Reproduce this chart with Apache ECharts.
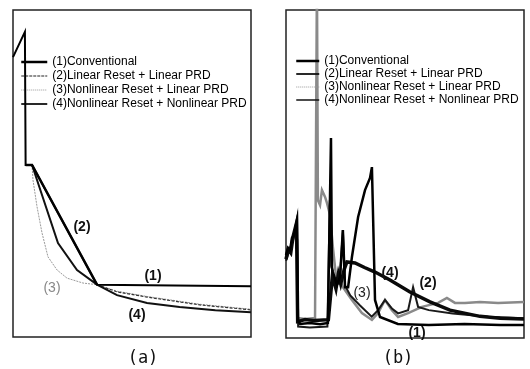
<!DOCTYPE html>
<html><head><meta charset="utf-8">
<script src="https://cdn.jsdelivr.net/npm/echarts@6/dist/echarts.min.js"></script>
<style>html,body{margin:0;padding:0;background:#fff}#c{width:530px;height:369px}</style>
</head><body><div id="c"></div>
<script>
const names = ['(1)Conventional','(2)Linear Reset + Linear PRD','(3)Nonlinear Reset + Linear PRD','(4)Nonlinear Reset + Nonlinear PRD'];
const panelLabels = ['(a)','(b)'];
const curveLabelsA = ['(2)','(1)','(3)','(4)'];
const curveLabelsB = ['(4)','(2)','(3)','(1)'];

// ---- panel (a) ----
const a1 = [[0,85.6],[5.0,93.3],[5.3,93.3],[5.3,52.6],[8,52.6],[35.3,16],[36,15.5],[100,15.5]];
const a2 = [[5.3,52.6],[8,52.6],[35.3,16]];
const a2tail = [[35.3,16],[43.7,13.8],[56.3,12.2],[78.6,9.8],[100,8.3]];
const a3 = [[8,52.6],[8.4,48],[10.1,39.8],[12.2,31.8],[14.7,24.5],[18.5,20.5],[22.7,18],[29.4,16.5],[35.3,16],[43.7,14],[56.3,12.4],[78.6,10],[100,8.5]];
const a4 = [[8,52.6],[18.9,28.7],[26.9,20.5],[35.3,16],[43.7,12.8],[56.3,10.4],[70,9.2],[85,8.2],[100,7.6]];

// ---- panel (b) ----
const b1 = [[0,25.3],[0.8,27.4],[1.7,26.8],[2.5,30.5],[3.4,31.4],[4.2,34.5],[4.6,36],[5.0,5.5],[5.9,4.3],[10.1,4.6],[14.3,4.2],[17.6,4.6],[18.9,61],[19.3,21.6],[19.7,20.1],[21.4,16.2],[22.7,18.6],[23.9,32.9],[24.8,15.5],[26.1,15.5],[27.7,24.7],[30.3,36.9],[33.2,45.1],[35.3,48.8],[36.1,52.1],[37.4,11.6],[39.5,6.4],[47,4.3],[60,4.0],[75,4.3],[90,4.0],[100,4.0]];
const b2 = [[0,23.5],[1.5,27],[3,30],[4.2,33],[4.7,30],[5.1,3.5],[10,3.2],[17.4,3.5],[18.4,42],[19,22],[20,19],[21.4,16],[22.7,18.6],[23.9,32.9],[24.8,16],[27,13],[31,10],[36,6.5],[38.7,8.5],[41.6,11.6],[44.5,9],[47.1,7.5],[51.3,8.5],[53.4,15.5],[55.5,9.5],[60,8.5],[70,7.5],[85,6.5],[100,6]];
const b3 = [[5,6.1],[8,5.8],[12.2,6.1],[12.9,6],[13,110],[13.2,110],[13.4,42],[14.3,40.5],[15.1,45.1],[16.4,43],[17.2,41.2],[18.5,37.5],[19.7,27.7],[21.4,16.2],[22.7,17.7],[23.9,15.5],[27.7,11.6],[31.9,7.6],[36.1,5.5],[38.7,7.6],[41.6,11.6],[44.5,8.5],[47.1,6.4],[51.3,7.6],[57.1,9.5],[63.9,10.7],[67.6,12.2],[71,10.7],[75.2,10.7],[81.5,11],[89.1,10.7],[100,11]];
const b4 = [[0,24],[1,27],[2,26],[3,31],[4.4,35],[4.9,5],[8,5.6],[12,5.3],[17.8,5.6],[19.5,19],[21,15],[22,19.5],[23,16.5],[24.5,21],[25.6,23.2],[29,22.9],[33,21.5],[37.4,20.1],[43.7,17.7],[52.1,14],[60.5,11],[68.9,8.5],[81.5,6.6],[90,6.0],[100,5.8]];

const chart = echarts.init(document.getElementById('c'));
const FONT = 'Liberation Sans, Arial, sans-serif';
function ax(i){ return {type:'value', gridIndex:i, min:0, max:100, show:false}; }
function line(name, data, gi, color, width, type, z){
  return {type:'line', name, data, xAxisIndex:gi, yAxisIndex:gi, symbol:'none', silent:true, animation:false, z:z||2,
    lineStyle:{color, width, type:type||'solid', join:'miter'}, itemStyle:{color}};
}
function legendFor(left, top, gap, w, styles){
  return {left, top, orient:'vertical', itemWidth:w, itemHeight:10, itemGap:gap, padding:0, selectedMode:false,
    itemStyle:{opacity:0},
    textStyle:{fontFamily:FONT, fontSize:12, color:'#000', lineHeight:12},
    data: names.map((n,i)=>({name:n, lineStyle:styles[i], itemStyle:{opacity:0}}))};
}
function txt(t, x, y, bold, fill, size, fam){
  return {type:'text', z:100, style:{text:t, x, y, align:'center', verticalAlign:'middle',
    font:(bold?'bold ':'')+(size||14)+'px '+(fam||FONT), fill:fill||'#111'}};
}
chart.setOption({
  animation:false,
  backgroundColor:'#fff',
  grid:[
    {left:13, top:10, width:238, height:327, show:true, borderColor:'#222', borderWidth:1.5, backgroundColor:'transparent'},
    {left:286, top:10, width:238, height:328, show:true, borderColor:'#222', borderWidth:1.5, backgroundColor:'transparent'}
  ],
  xAxis:[ax(0), ax(1)],
  yAxis:[ax(0), ax(1)],
  legend:[
    legendFor(20, 56, 2, 26, [
      {color:'#000', width:2.5, type:'solid'},
      {color:'#222', width:1.2, type:[3,1]},
      {color:'#999', width:1, type:[1,1]},
      {color:'#111', width:1.8, type:'solid'}]),
    legendFor(295, 55, 1, 23, [
      {color:'#000', width:2.5, type:'solid'},
      {color:'#111', width:1.8, type:'solid'},
      {color:'#999', width:1, type:[1,1]},
      {color:'#111', width:1.5, type:'solid'}])
  ],
  series:[
    line(names[2], a3, 0, '#9a9a9a', 1, [2,1], 2),
    line(names[1], a2tail, 0, '#333', 1.2, [3,1.5], 3),
    line(names[3], a4, 0, '#111', 2, 'solid', 4),
    line(names[1], a2, 0, '#111', 2.5, 'solid', 5),
    line(names[0], a1, 0, '#000', 2, 'solid', 6),
    line(names[2], b3, 1, '#8a8a8a', 2.5, 'solid', 2),
    line(names[1], b2, 1, '#1a1a1a', 2, 'solid', 3),
    line(names[3], b4, 1, '#0a0a0a', 3.5, 'solid', 4),
    line(names[0], b1, 1, '#000', 2.5, 'solid', 5)
  ],
  graphic:[
    txt(curveLabelsA[0], 82, 227, true),
    txt(curveLabelsA[1], 153, 276, true),
    txt(curveLabelsA[2], 52, 288, false, '#888'),
    txt(curveLabelsA[3], 137, 315, true),
    txt(curveLabelsB[0], 390, 273, true),
    txt(curveLabelsB[1], 428, 283, true),
    txt(curveLabelsB[2], 362, 293, false, '#222'),
    txt(curveLabelsB[3], 417, 333, true),
    txt(panelLabels[0], 143, 359, false, '#111', 17, 'DejaVu Sans Mono, monospace'),
    txt(panelLabels[1], 398, 359, false, '#111', 17, 'DejaVu Sans Mono, monospace')
  ]
});
</script></body></html>
